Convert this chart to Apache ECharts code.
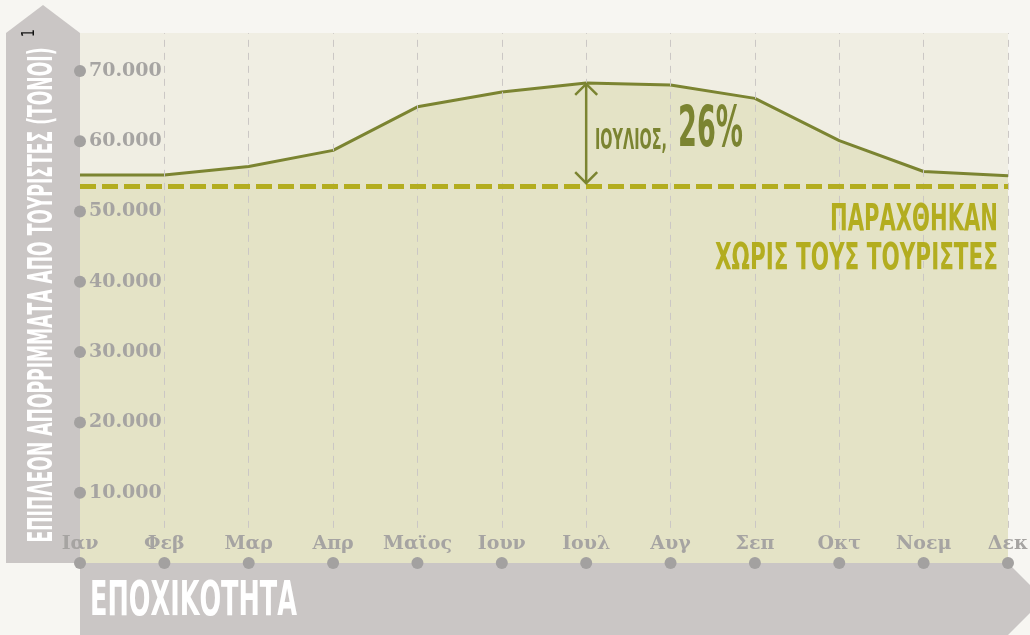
<!DOCTYPE html>
<html>
<head>
<meta charset="utf-8">
<script src="https://cdn.jsdelivr.net/npm/echarts@6/dist/echarts.min.js"></script>
<style>
  html, body { margin: 0; padding: 0; background: #f7f6f2; }
  #main { width: 1030px; height: 635px; }
</style>
</head>
<body>
<div id="main"></div>
<script>
// μήνες και τιμές (τόνοι απορριμμάτων)
const months = ['Ιαν', 'Φεβ', 'Μαρ', 'Απρ', 'Μαϊος', 'Ιουν', 'Ιουλ', 'Αυγ', 'Σεπ', 'Οκτ', 'Νοεμ', 'Δεκ'];
const waste = [55200, 55200, 56400, 58700, 64900, 67000, 68300, 68000, 66100, 60100, 55700, 55100];
// χωρίς τους τουρίστες
const baseWaste = 53600;
const yTicks = [10000, 20000, 30000, 40000, 50000, 60000, 70000];
const peakIndex = 6;

const lineColor = '#7b8431';
const dashColor = '#b3ad1f';
const greyText = '#a6a4a2';
const condensed = "'Liberation Sans Narrow', 'DejaVu Sans Condensed', sans-serif";
const serif = "'DejaVu Serif', 'Liberation Serif', serif";

// πλάτος κειμένου για να στενέψουμε τη γραμματοσειρά
const measureCtx = document.createElement('canvas').getContext('2d');
function squeeze(text, font, target) {
    measureCtx.font = font;
    return target / measureCtx.measureText(text).width;
}

function label(text, x, y, size, width, color, align, rotation, weight) {
    let font = (weight || 'bold') + ' ' + size + 'px ' + condensed;
    return {
        type: 'text',
        x: x, y: y,
        rotation: rotation || 0,
        scaleX: squeeze(text, font, width),
        z: 100,
        style: {
            text: text,
            fill: color,
            font: font,
            textAlign: align,
            textVerticalAlign: 'middle'
        }
    };
}

function fmt(v) {
    return String(v).replace(/\B(?=(\d{3})+(?!\d))/g, '.');
}

// κάθετες διακεκομμένες γραμμές
let gridLines = [];
for (let i = 1; i < months.length; i++) {
    gridLines.push([
        { coord: [i, 5000], lineStyle: { color: '#cbc7c5', width: 1, type: [7, 6] } },
        { coord: [i, 75400] }
    ]);
}

let myChart = echarts.init(document.getElementById('main'));

let option = {
    backgroundColor: '#f7f6f2',
    animation: false,
    grid: {
        left: 80, right: 22, top: 33, bottom: 72,
        show: true,
        backgroundColor: '#f0eee3',
        borderWidth: 0
    },
    xAxis: {
        type: 'category',
        data: months,
        boundaryGap: false,
        axisLine: { show: false },
        axisTick: { show: false },
        axisLabel: { show: false },
        splitLine: { show: false }
    },
    yAxis: {
        type: 'value',
        min: 0,
        max: 75400,
        interval: 10000,
        axisLine: { show: false },
        axisTick: { show: false },
        axisLabel: { show: false },
        splitLine: { show: false }
    },
    graphic: [
        {
            type: 'polygon', z: 0,
            shape: { points: [[6, 33], [43, 5], [80, 33], [80, 563], [6, 563]] },
            style: { fill: '#cac6c5' }
        },
        {
            type: 'polygon', z: 0,
            shape: { points: [[80, 563], [1008, 563], [1044, 599], [1008, 635], [80, 635]] },
            style: { fill: '#cac6c5' }
        },
        label('ΕΠΙΠΛΕΟΝ ΑΠΟΡΡΙΜΜΑΤΑ ΑΠΟ ΤΟΥΡΙΣΤΕΣ (ΤΟΝΟΙ)', 43, 295, 34, 495, '#ffffff', 'center', Math.PI / 2),
        label('1', 30, 33, 17, 8, '#111111', 'center', Math.PI / 2, 'normal'),
        label('ΕΠΟΧΙΚΟΤΗΤΑ', 90, 603, 48, 207, '#ffffff', 'left'),
        label('ΙΟΥΛΙΟΣ,', 595, 142, 28, 72, lineColor, 'left'),
        label('26%', 678, 132, 57, 65, lineColor, 'left'),
        label('ΠΑΡΑΧΘΗΚΑΝ', 998, 220, 38, 168, dashColor, 'right'),
        label('ΧΩΡΙΣ ΤΟΥΣ ΤΟΥΡΙΣΤΕΣ', 998, 259, 38, 283, dashColor, 'right')
    ],
    series: [
        {
            name: 'απορρίμματα',
            type: 'line',
            data: waste,
            symbol: 'none',
            z: 2,
            lineStyle: { color: lineColor, width: 3 },
            areaStyle: { color: '#e4e3c6', opacity: 1 },
            markLine: {
                silent: true,
                symbol: 'none',
                label: { show: false },
                emphasis: { disabled: true },
                data: gridLines.concat([
                    { yAxis: baseWaste, lineStyle: { color: dashColor, width: 5, type: [16, 6] } }
                ])
            }
        },
        {
            // βέλος Ιουλίου
            type: 'custom',
            z: 6,
            silent: true,
            data: [[peakIndex, baseWaste, waste[peakIndex]]],
            encode: { x: 0, y: [1, 2] },
            renderItem: function (params, api) {
                let top = api.coord([api.value(0), api.value(2)]);
                let bot = api.coord([api.value(0), api.value(1)]);
                let x = top[0];
                let t = top[1] + 1;
                let b = bot[1] - 3;
                let st = { stroke: lineColor, lineWidth: 2.5, fill: null };
                return {
                    type: 'group',
                    children: [
                        { type: 'line', shape: { x1: x, y1: t, x2: x, y2: b }, style: st },
                        { type: 'polyline', shape: { points: [[x - 11, t + 11], [x, t], [x + 11, t + 11]] }, style: st },
                        { type: 'polyline', shape: { points: [[x - 11, b - 11], [x, b], [x + 11, b - 11]] }, style: st }
                    ]
                };
            }
        },
        {
            // τελείες και τιμές άξονα y
            type: 'scatter',
            z: 10,
            clip: false,
            silent: true,
            symbolSize: 12,
            itemStyle: { color: '#a3a1a0', opacity: 1 },
            data: yTicks.map(v => [0, v]),
            label: {
                show: true,
                position: 'right',
                distance: 3,
                formatter: p => fmt(p.value[1]),
                fontFamily: serif,
                fontWeight: 'bold',
                fontSize: 19,
                color: greyText
            }
        },
        {
            // τελείες και μήνες άξονα x
            type: 'scatter',
            z: 10,
            clip: false,
            silent: true,
            symbolSize: 12,
            itemStyle: { color: '#a3a1a0', opacity: 1 },
            data: months.map((m, i) => [i, 0]),
            label: {
                show: true,
                position: 'top',
                distance: 3,
                formatter: p => months[p.value[0]],
                fontFamily: serif,
                fontWeight: 'bold',
                fontSize: 19,
                color: greyText
            }
        }
    ]
};

myChart.setOption(option);
</script>
</body>
</html>
